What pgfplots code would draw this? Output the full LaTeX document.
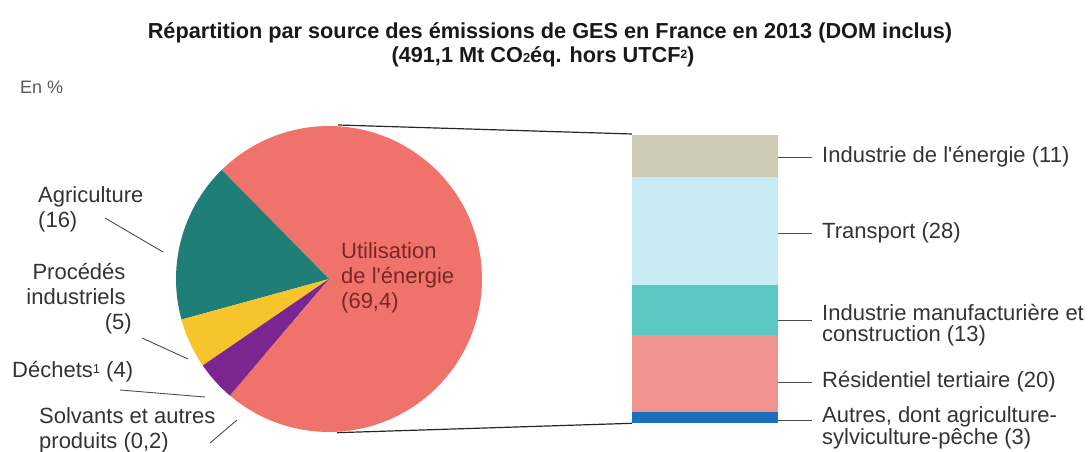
\documentclass[border=0pt]{standalone}
\usepackage{pgfplots}
\pgfplotsset{compat=1.18}
\usepackage{fontspec}
\setmainfont{Liberation Sans}[Ligatures=TeXOff]
\definecolor{cRed}{HTML}{F0736B}
\definecolor{cTeal}{HTML}{1F7E78}
\definecolor{cYellow}{HTML}{F7C42B}
\definecolor{cPurple}{HTML}{7A2590}
\definecolor{cSolv}{HTML}{E86A62}
\definecolor{bBeige}{HTML}{CDCBB3}
\definecolor{bLight}{HTML}{C8EAF4}
\definecolor{bTeal}{HTML}{5CC8C4}
\definecolor{bPink}{HTML}{F0928E}
\definecolor{bBlue}{HTML}{1E6FBA}
\definecolor{txt}{HTML}{333333}
\definecolor{lbl}{HTML}{7A2626}
\tikzset{lab/.style={font=\fontsize{22bp}{25bp}\selectfont, text=txt, inner sep=0pt}}
\begin{document}
\begin{tikzpicture}
\path[use as bounding box] (0,0) rectangle (1090bp,452bp);
% pie data (in %), normalised over their total
\pgfmathsetmacro{\tot}{69.4+16+5+4+0.2}
\pgfmathsetmacro{\k}{360/\tot}
\pgfmathsetmacro{\aA}{134.5}
\pgfmathsetmacro{\aB}{\aA+16*\k}
\pgfmathsetmacro{\aC}{\aB+5*\k}
\pgfmathsetmacro{\aD}{\aC+4*\k}
\pgfmathsetmacro{\aE}{\aD+0.2*\k}
\pgfmathsetmacro{\aF}{\aE+69.4*\k}
\begin{axis}[at={(0,0)}, anchor=south west, width=1090bp, height=452bp,
  scale only axis, xmin=0, xmax=1090, ymin=0, ymax=452, hide axis, clip=false]
% sectors
\addplot[draw=none, fill=cRed, domain=\aE:\aF, samples=120] ({329+153*cos(x)},{173+153*sin(x)}) -- (axis cs:329,173) -- cycle;
\addplot[draw=none, fill=cTeal, domain=\aA:\aB, samples=40] ({329+153*cos(x)},{173+153*sin(x)}) -- (axis cs:329,173) -- cycle;
\addplot[draw=none, fill=cYellow, domain=\aB:\aC, samples=15] ({329+153*cos(x)},{173+153*sin(x)}) -- (axis cs:329,173) -- cycle;
\addplot[draw=none, fill=cPurple, domain=\aC:\aD, samples=15] ({329+153*cos(x)},{173+153*sin(x)}) -- (axis cs:329,173) -- cycle;
\addplot[draw=none, fill=cSolv, domain=\aD:\aE, samples=3] ({329+153*cos(x)},{173+153*sin(x)}) -- (axis cs:329,173) -- cycle;
% connector lines
\addplot[black!85, line width=1.2pt] coordinates {(338,327) (632,318)};
\addplot[black!85, line width=1.2pt] coordinates {(337,19.3) (632,28.7)};
% right leaders
\addplot[black!70, line width=0.9pt] coordinates {(778,295) (812,295)};
\addplot[black!70, line width=0.9pt] coordinates {(778,219) (812,219)};
\addplot[black!70, line width=0.9pt] coordinates {(778,132) (812,132)};
\addplot[black!70, line width=0.9pt] coordinates {(778,70) (812,70)};
\addplot[black!70, line width=0.9pt] coordinates {(778,32) (812,32)};
% left leaders
\addplot[black!70, line width=0.9pt] coordinates {(105,234) (163,200)};
\addplot[black!70, line width=0.9pt] coordinates {(142,114) (188,93)};
\addplot[black!70, line width=0.9pt] coordinates {(120,62) (205,55)};
\addplot[black!70, line width=0.9pt] coordinates {(210,9) (237,32)};
% titles
\node[lab, font=\bfseries\fontsize{21.7bp}{25bp}\selectfont, text=black!90] at (axis cs:550,419) {Répartition par source des émissions de GES en France en 2013 (DOM inclus)};
\node[lab, font=\bfseries\fontsize{21.7bp}{25bp}\selectfont, text=black!90] at (axis cs:543,395) {(491,1 Mt CO{\fontsize{13bp}{13bp}\selectfont 2}éq. hors UTCF{\fontsize{12bp}{12bp}\selectfont\raisebox{0.6ex}{2}})};
\node[lab, anchor=west, font=\fontsize{18bp}{20bp}\selectfont, text=black!65] at (axis cs:20,365) {En \%};
% pie label
\node[lab, anchor=west, align=left, text=lbl] at (axis cs:341,174) {Utilisation\\de l'énergie\\(69,4)};
% left labels
\node[lab, anchor=west, align=left] at (axis cs:38,242.5) {Agriculture\\(16)};
\node[lab] at (axis cs:79,180) {Procédés};
\node[lab] at (axis cs:76,155) {industriels};
\node[lab, anchor=east] at (axis cs:132,128) {(5)};
\node[lab, anchor=west] at (axis cs:12,80) {Déchets{\fontsize{13bp}{13bp}\selectfont\raisebox{0.7ex}{1}} (4)};
\node[lab, anchor=west, align=left] at (axis cs:39,21.5) {Solvants et autres\\produits (0,2)};
% right labels
\node[lab, anchor=west] at (axis cs:822,295) {Industrie de l'énergie (11)};
\node[lab, anchor=west] at (axis cs:822,219) {Transport (28)};
\node[lab, anchor=west, align=left, font=\fontsize{22bp}{21bp}\selectfont] at (axis cs:822,127) {Industrie manufacturière et\\construction (13)};
\node[lab, anchor=west] at (axis cs:822,70) {Résidentiel tertiaire (20)};
\node[lab, anchor=west, align=left, font=\fontsize{22bp}{20bp}\selectfont] at (axis cs:822,24) {Autres, dont agriculture-\\sylviculture-pêche (3)};
\end{axis}
% stacked bar of the energy-use breakdown
\begin{axis}[at={(632bp,28.7bp)}, anchor=south west, width=146bp, height=288.3bp,
  scale only axis, xmin=-0.5, xmax=0.5, ymin=0, ymax=75, hide axis,
  ybar stacked, bar width=146bp]
\addplot[draw=none, fill=bBlue] coordinates {(0,3)};
\addplot[draw=none, fill=bPink] coordinates {(0,20)};
\addplot[draw=none, fill=bTeal] coordinates {(0,13)};
\addplot[draw=none, fill=bLight] coordinates {(0,28)};
\addplot[draw=none, fill=bBeige] coordinates {(0,11)};
\end{axis}
\end{tikzpicture}
\end{document}
